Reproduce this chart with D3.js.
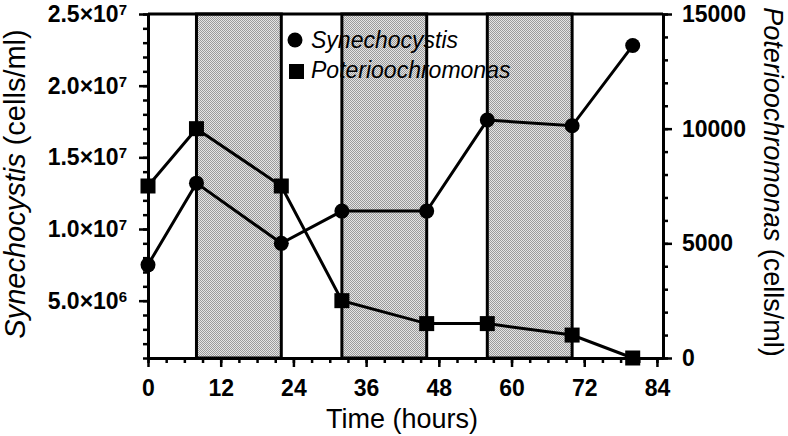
<!DOCTYPE html>
<html>
<head>
<meta charset="utf-8">
<script src="https://cdn.jsdelivr.net/npm/d3@7"></script>
<style>
  body { margin: 0; background: #fff; }
  svg { display: block; font-family: "Liberation Sans", Arial, sans-serif; }
</style>
</head>
<body>
<svg id="chart" width="788" height="436"></svg>
<script>
// sampling times (hours)
const times = [0, 8, 22, 32, 46, 56, 70, 80];
// Synechocystis (cells/ml), left axis
const synechocystis = [7.5e6, 13.2e6, 9.0e6, 11.25e6, 11.25e6, 17.6e6, 17.2e6, 22.8e6];
// Poterioochromonas (cells/ml), right axis
const poterio = [7500, 10000, 7500, 2500, 1500, 1500, 1000, 0];
// dark periods (hours)
const darkStart = [8, 32, 56];
const darkEnd = [22, 46, 70];
// ticks
const xTicks = [0, 12, 24, 36, 48, 60, 72, 84];
const leftTicks = [5e6, 1e7, 1.5e7, 2e7, 2.5e7];
const rightTicks = [0, 5000, 10000, 15000];

const svg = d3.select('#chart');
const margin = { top: 14, right: 125, bottom: 78, left: 148 };
const width = 788 - margin.left - margin.right;
const height = 436 - margin.top - margin.bottom;

const g = svg.append('g').attr('transform', `translate(${margin.left},${margin.top})`);

const x = d3.scaleLinear().domain([0, 85]).range([0, width]);
const yL = d3.scaleLinear().domain([1e6, 2.5e7]).range([height, 0]);
const yR = d3.scaleLinear().domain([0, 15000]).range([height, 0]);

// checkered fill for the dark periods
const pat = svg.append('defs').append('pattern')
  .attr('id', 'dots').attr('width', 2).attr('height', 2)
  .attr('patternUnits', 'userSpaceOnUse');
pat.append('rect').attr('width', 2).attr('height', 2).attr('fill', '#e4e4e4');
pat.append('rect').attr('width', 1).attr('height', 1).attr('fill', '#9a9a9a');
pat.append('rect').attr('x', 1).attr('y', 1).attr('width', 1).attr('height', 1).attr('fill', '#9a9a9a');

g.selectAll('.dark')
  .data(darkStart.map((s, i) => [s, darkEnd[i]]))
  .enter()
  .append('rect')
  .attr('class', 'dark')
  .attr('x', d => x(d[0]))
  .attr('y', 0)
  .attr('width', d => x(d[1]) - x(d[0]))
  .attr('height', height)
  .attr('fill', 'url(#dots)')
  .attr('stroke', '#000')
  .attr('stroke-width', 3);

// lines
const lineL = d3.line().x((d, i) => x(times[i])).y(d => yL(d));
const lineR = d3.line().x((d, i) => x(times[i])).y(d => yR(d));

g.append('path').datum(synechocystis).attr('d', lineL)
  .attr('fill', 'none').attr('stroke', '#000').attr('stroke-width', 3);
g.append('path').datum(poterio).attr('d', lineR)
  .attr('fill', 'none').attr('stroke', '#000').attr('stroke-width', 3);

g.selectAll('.sq')
  .data(poterio)
  .enter()
  .append('rect')
  .attr('x', (d, i) => x(times[i]) - 7.5)
  .attr('y', d => yR(d) - 7.5)
  .attr('width', 15).attr('height', 15)
  .attr('fill', '#000');

g.selectAll('.dot')
  .data(synechocystis)
  .enter()
  .append('circle')
  .attr('cx', (d, i) => x(times[i]))
  .attr('cy', d => yL(d))
  .attr('r', 7.5)
  .attr('fill', '#000');

// axes
function styleAxis(sel) {
  sel.selectAll('.domain').attr('stroke-width', 3);
  sel.selectAll('.tick line').attr('stroke-width', 2.5);
  sel.selectAll('text').attr('font-size', 23).attr('font-weight', 'bold').attr('fill', '#000')
    .attr('font-family', '"Liberation Sans", Arial, sans-serif');
}
function minor(sel) {
  sel.selectAll('.domain').remove();
  sel.selectAll('.tick line').attr('stroke-width', 2.5);
}

// minor ticks
g.append('g').attr('transform', `translate(0,${height})`)
  .call(d3.axisBottom(x).tickValues(d3.range(0, 85, 3)).tickSize(5).tickFormat(''))
  .call(minor);
g.append('g')
  .call(d3.axisLeft(yL).tickValues(d3.range(1e6, 2.5e7 + 1, 1e6)).tickSize(5).tickFormat(''))
  .call(minor);
g.append('g').attr('transform', `translate(${width},0)`)
  .call(d3.axisRight(yR).tickValues(d3.range(0, 15001, 1000)).tickSize(5).tickFormat(''))
  .call(minor);

// major ticks
g.append('g').attr('transform', `translate(0,${height})`)
  .call(d3.axisBottom(x).tickValues(xTicks).tickSize(9).tickPadding(13).tickSizeOuter(0))
  .call(styleAxis);

const leftAxis = g.append('g')
  .call(d3.axisLeft(yL).tickValues(leftTicks).tickSize(9).tickPadding(12).tickSizeOuter(0))
  .call(styleAxis);
leftAxis.selectAll('.tick text').each(function (d) {
  const e = Math.floor(Math.log10(d));
  const m = (d / Math.pow(10, e)).toFixed(1);
  const t = d3.select(this).text(m + '×10');
  t.append('tspan').attr('dy', '-0.45em').attr('font-size', 15).text(e);
});

g.append('g').attr('transform', `translate(${width},0)`)
  .call(d3.axisRight(yR).tickValues(rightTicks).tickFormat(d3.format('d'))
    .tickSize(9).tickPadding(10).tickSizeOuter(0))
  .call(styleAxis);

// top frame
g.append('line').attr('x1', 0).attr('x2', width).attr('y1', 0).attr('y2', 0)
  .attr('stroke', '#000').attr('stroke-width', 3);

// axis titles
svg.append('text')
  .attr('x', 402).attr('y', 428)
  .attr('text-anchor', 'middle').attr('font-size', 27)
  .text('Time (hours)');

const tl = svg.append('text')
  .attr('transform', 'translate(25,184) rotate(-90)')
  .attr('text-anchor', 'middle').attr('font-size', 29);
tl.append('tspan').attr('font-style', 'italic').text('Synechocystis');
tl.append('tspan').text(' (cells/ml)');

const tr = svg.append('text')
  .attr('transform', 'translate(764,182) rotate(90)')
  .attr('text-anchor', 'middle').attr('font-size', 27);
tr.append('tspan').attr('font-style', 'italic').text('Poterioochromonas');
tr.append('tspan').text(' (cells/ml)');

// legend
const legend = svg.append('g');
legend.append('circle').attr('cx', 295).attr('cy', 40).attr('r', 7.5).attr('fill', '#000');
legend.append('text').attr('x', 311).attr('y', 48).attr('font-size', 23)
  .attr('font-style', 'italic').text('Synechocystis');
legend.append('rect').attr('x', 289).attr('y', 64).attr('width', 15).attr('height', 15).attr('fill', '#000');
legend.append('text').attr('x', 311).attr('y', 78).attr('font-size', 23)
  .attr('font-style', 'italic').text('Poterioochromonas');
</script>
</body>
</html>
